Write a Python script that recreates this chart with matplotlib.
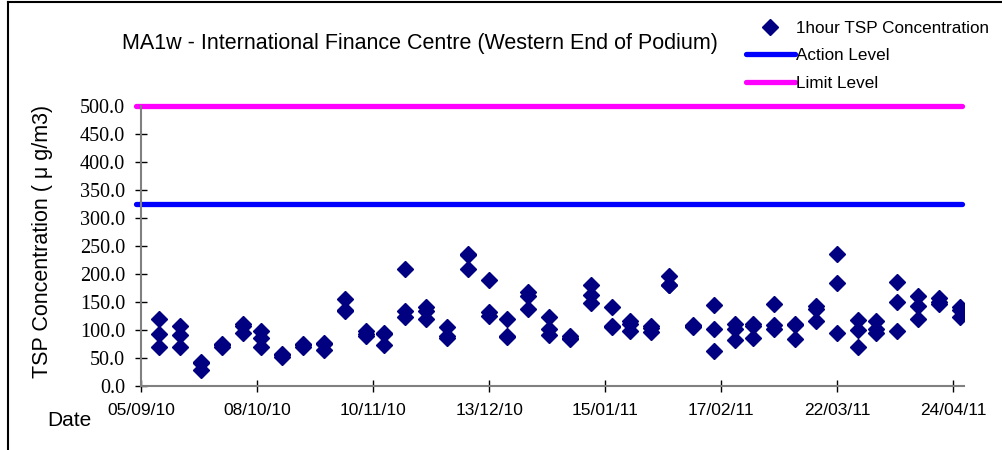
import matplotlib
matplotlib.use("Agg")
import matplotlib.pyplot as plt
import matplotlib.dates as mdates
from matplotlib.lines import Line2D
import datetime as dt

# sampling days (3 x 1-hour samples each)
sample_dates = ["10/09/10", "16/09/10", "22/09/10", "28/09/10", "04/10/10", "09/10/10",
                "15/10/10", "21/10/10", "27/10/10", "02/11/10", "08/11/10", "13/11/10",
                "19/11/10", "25/11/10", "01/12/10", "07/12/10", "13/12/10", "18/12/10",
                "24/12/10", "30/12/10", "05/01/11", "11/01/11", "17/01/11", "22/01/11",
                "28/01/11", "02/02/11", "09/02/11", "15/02/11", "21/02/11", "26/02/11",
                "04/03/11", "10/03/11", "16/03/11", "22/03/11", "28/03/11", "02/04/11",
                "08/04/11", "14/04/11", "20/04/11", "26/04/11"]
sample_1 = [119, 106, 42, 75, 111, 97, 57, 75, 77, 155, 97, 95, 208, 140, 104, 235, 189, 120,
            168, 122, 88, 179, 141, 115, 107, 196, 109, 144, 111, 111, 146, 110, 142, 236,
            117, 116, 186, 160, 156, 140]
sample_2 = [93, 90, 40, 72, 106, 85, 54, 72, 74, 136, 93, 93, 134, 134, 88, 233, 132, 88,
            160, 101, 85, 162, 106, 110, 103, 180, 107, 101, 101, 107, 108, 109, 137, 183,
            100, 102, 150, 143, 150, 135]
sample_3 = [69, 70, 28, 69, 95, 70, 52, 70, 63, 133, 88, 72, 122, 120, 86, 208, 125, 87,
            137, 91, 83, 147, 104, 98, 96, 179, 105, 62, 82, 85, 101, 83, 116, 94,
            69, 94, 98, 119, 146, 123]

action_level = 325
limit_level = 500

tick_dates = ["05/09/10", "08/10/10", "10/11/10", "13/12/10", "15/01/11",
              "17/02/11", "22/03/11", "24/04/11"]
x_start, x_end = "05/09/10", "27/04/11"


def to_date(s):
    return dt.datetime.strptime(s, "%d/%m/%y")


dates = [to_date(s) for s in sample_dates]

fig = plt.figure(figsize=(10.03, 4.5), dpi=100)
ax = fig.add_axes([141 / 1003, 1 - 385.7 / 450, (964 - 141) / 1003, 280 / 450])

all_x = dates * 3
all_y = sample_1 + sample_2 + sample_3
ax.plot(all_x, all_y, linestyle="none", marker="D", markersize=8,
        color="#000080", label="1hour TSP Concentration", zorder=3)

ax.axhline(action_level, xmin=-0.006, xmax=0.998, color="#0000FF", lw=3.8,
           solid_capstyle="round", clip_on=False, label="Action Level")
ax.axhline(limit_level, xmin=-0.006, xmax=0.998, color="#FF00FF", lw=3.8,
           solid_capstyle="round", clip_on=False, label="Limit Level")

ax.set_xlim(to_date(x_start), to_date(x_end))
ax.set_ylim(0, 500)

ax.set_xticks([to_date(s) for s in tick_dates])
ax.xaxis.set_major_formatter(mdates.DateFormatter("%d/%m/%y"))
ax.set_yticks(range(0, 501, 50))
ax.set_yticklabels(["%.1f" % v for v in range(0, 501, 50)])

for lab in ax.get_yticklabels():
    lab.set_family("Liberation Serif")
    lab.set_fontsize(14.5)
for lab in ax.get_xticklabels():
    lab.set_family("Liberation Sans")
    lab.set_fontsize(12.5)

ax.tick_params(axis="both", direction="inout", length=9, width=1, colors="black")
ax.tick_params(axis="y", pad=7)
ax.tick_params(axis="x", pad=8)

for side in ["top", "right"]:
    ax.spines[side].set_visible(False)
ax.spines["left"].set_color("#808080")
ax.spines["bottom"].set_color("#808080")
ax.spines["left"].set_linewidth(1.5)
ax.spines["bottom"].set_linewidth(1.5)

fig.text(420 / 1003, 1 - 43 / 450, "MA1w - International Finance Centre (Western End of Podium)",
         ha="center", va="center", fontsize=15.5, family="Liberation Sans")
fig.text(43 / 1003, 1 - 241 / 450, "TSP Concentration ( \u03bc g/m3)", rotation=90,
         ha="center", va="center", fontsize=15.5, family="Liberation Sans")
fig.text(47 / 1003, 1 - 421 / 450, "Date", ha="left", va="center",
         fontsize=15, family="Liberation Sans")

fig.legend(loc="upper left", bbox_to_anchor=(746 / 1003, 1 - 21 / 450), frameon=False,
           prop={"family": "Liberation Sans", "size": 12.3}, handlelength=2.85,
           handletextpad=0.05, labelspacing=0.72, borderpad=0, borderaxespad=0)

# outer frame (top and left edges only)
fig.add_artist(Line2D([8 / 1003, 1], [1 - 2 / 450, 1 - 2 / 450], color="black", lw=1.5,
                      transform=fig.transFigure))
fig.add_artist(Line2D([8 / 1003, 8 / 1003], [0, 1 - 2 / 450], color="black", lw=1.5,
                      transform=fig.transFigure))

fig.savefig("out.png", dpi=100)
